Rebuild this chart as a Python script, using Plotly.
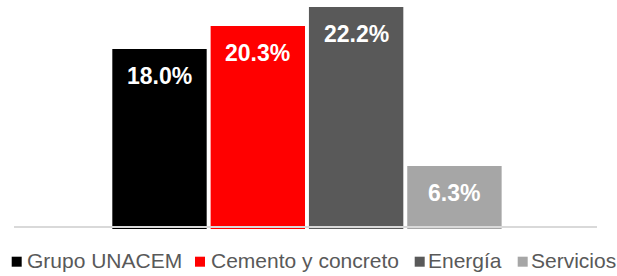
import plotly.graph_objects as go

# ---- data ----
series = ["Grupo UNACEM", "Cemento y concreto", "Energía", "Servicios"]
values = [18.0, 20.3, 22.2, 6.3]
labels = ["18.0%", "20.3%", "22.2%", "6.3%"]
colors = ["#000000", "#FF0000", "#595959", "#A6A6A6"]

# ---- layout geometry (pixels) ----
W, H = 617, 276
ML, MR, MT, MB = 14, 20, 5, 47
PW = W - ML - MR
PH = H - MT - MB
FONT = "Arial, 'Liberation Sans', sans-serif"


def px_x(p):
    return (p - ML) / PW


def px_y(p):
    return (H - MB - p) / PH


fig = go.Figure()
fig.add_trace(go.Bar(
    x=series,
    y=values,
    marker=dict(color=colors, line=dict(width=0)),
    showlegend=False,
    hoverinfo="skip",
))

# value labels inside the top of each bar
for s, v, t in zip(series, values, labels):
    fig.add_annotation(
        x=s, y=v, xref="x", yref="y", text=t, showarrow=False,
        yanchor="top", yshift=-13, borderpad=0,
        font=dict(family=FONT, size=23, color="#FFFFFF", weight="bold"),
    )

# custom legend (square + name)
legend_square_x = [11.7, 195.0, 414.7, 517.7]
legend_text_x = [27.0, 210.5, 428.0, 530.5]
sq_top, sq_bot = 256.7, 266.7
for name, c, sx, tx in zip(series, colors, legend_square_x, legend_text_x):
    fig.add_shape(
        type="rect", xref="paper", yref="paper",
        x0=px_x(sx), x1=px_x(sx + 10), y0=px_y(sq_bot), y1=px_y(sq_top),
        fillcolor=c, line=dict(width=0),
    )
    fig.add_annotation(
        x=px_x(tx), y=px_y(260.5), xref="paper", yref="paper",
        text=name, showarrow=False, xanchor="left", yanchor="middle",
        borderpad=0, borderwidth=0,
        font=dict(family=FONT, size=21, color="#595959"),
    )

# baseline
fig.add_shape(
    type="line", xref="paper", yref="y", x0=0, x1=1, y0=0.2, y1=0.2,
    line=dict(color="#D9D9D9", width=2), layer="above",
)

fig.update_layout(
    width=W, height=H,
    margin=dict(l=ML, r=MR, t=MT, b=MB, pad=0),
    paper_bgcolor="#FFFFFF", plot_bgcolor="#FFFFFF",
    bargap=0.04,
    showlegend=False,
    xaxis=dict(range=[-1.48, 4.45], showticklabels=False, showgrid=False,
               zeroline=False, showline=False, ticks=""),
    yaxis=dict(range=[0, PH / 10.0], showticklabels=False, showgrid=False,
               zeroline=False, showline=False, ticks=""),
)

fig.write_html(
    "out.html",
    config={"displayModeBar": False},
    post_script="document.body.style.margin='0';document.body.style.overflow='hidden';",
)
